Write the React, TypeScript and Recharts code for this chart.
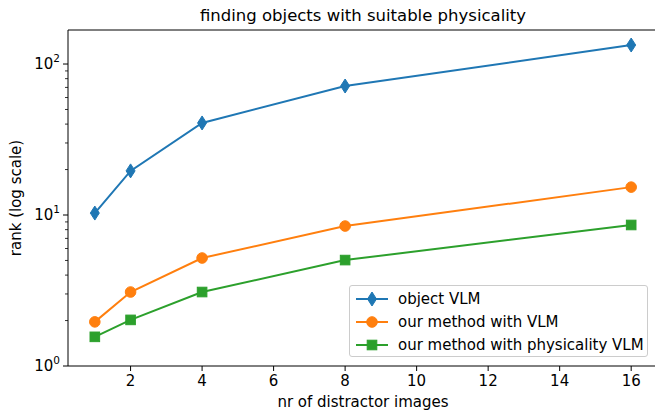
import React from 'react';
import { LineChart, Line, XAxis, YAxis, ReferenceLine } from 'recharts';

const distractors = [1, 2, 4, 8, 16];
const objectVlm = [10.3, 19.6, 40.7, 71.5, 133.6];
const ourVlm = [1.96, 3.09, 5.19, 8.45, 15.3];
const ourPhysVlm = [1.56, 2.02, 3.09, 5.03, 8.59];

const xTicks = [2, 4, 6, 8, 10, 12, 14, 16];
const yTicks = [1, 2, 3, 4, 5, 6, 7, 8, 9, 10, 20, 30, 40, 50, 60, 70, 80, 90, 100];
const yMajor: Record<number, string> = { 1: '0', 10: '1', 100: '2' };

const seriesNames = ['object VLM', 'our method with VLM', 'our method with physicality VLM'];
const colors = ['#1f77b4', '#ff7f0e', '#2ca02c'];

const data = distractors.map((n, i) => ({
  n,
  objectVlm: objectVlm[i],
  ourVlm: ourVlm[i],
  ourPhysVlm: ourPhysVlm[i],
}));

const FONT = '"DejaVu Sans", sans-serif';

function Marker({ kind, cx, cy, color }: { kind: number; cx: number; cy: number; color: string }) {
  if (kind === 0) {
    return (
      <polygon
        points={`${cx},${cy - 7} ${cx + 4.5},${cy} ${cx},${cy + 7} ${cx - 4.5},${cy}`}
        fill={color}
        stroke={color}
        strokeWidth={1}
      />
    );
  }
  if (kind === 1) {
    return <circle cx={cx} cy={cy} r={5.3} fill={color} stroke={color} strokeWidth={1} />;
  }
  return <rect x={cx - 4.8} y={cy - 4.8} width={9.6} height={9.6} fill={color} stroke={color} strokeWidth={1} />;
}

const makeDot = (kind: number) => (props: any) => {
  const { cx, cy, index } = props;
  if (cx == null || cy == null) return <g key={index} />;
  return <Marker key={index} kind={kind} cx={cx} cy={cy} color={colors[kind]} />;
};

const YTick = (props: any) => {
  const { x, y, payload } = props;
  const exp = yMajor[payload.value];
  if (exp === undefined) {
    return <line x1={x} x2={x - 3} y1={y} y2={y} stroke="#000" strokeWidth={0.8} />;
  }
  return (
    <g>
      <line x1={x} x2={x - 5} y1={y} y2={y} stroke="#000" strokeWidth={1} />
      <text x={x - 8} y={y} dy="0.36em" textAnchor="end" fill="#000" fontSize={15} fontFamily={FONT}>
        <tspan>10</tspan>
        <tspan dy={-7} fontSize={10.5}>{exp}</tspan>
      </text>
    </g>
  );
};

const LegendBox = () => (
  <div
    style={{
      position: 'absolute',
      left: 349,
      top: 285,
      border: '1px solid #cccccc',
      borderRadius: 3,
      background: 'rgba(255,255,255,0.8)',
      width: 299,
      height: 72,
      boxSizing: 'border-box',
      paddingTop: 1,
      fontFamily: FONT,
      fontSize: 15,
      lineHeight: '18px',
      color: '#000',
    }}
  >
    {seriesNames.map((name, i) => (
      <div key={name} style={{ display: 'flex', alignItems: 'center', height: 23 }}>
        <svg width={48} height={20} style={{ flex: 'none' }}>
          <line x1={6} x2={38} y1={10} y2={10} stroke={colors[i]} strokeWidth={2} />
          <Marker kind={i} cx={22} cy={10} color={colors[i]} />
        </svg>
        <span style={{ whiteSpace: 'nowrap' }}>{name}</span>
      </div>
    ))}
  </div>
);

export default function App() {
  return (
    <div style={{ position: 'absolute', left: 0, top: 0, width: 655, height: 412, overflow: 'hidden', background: '#fff' }}>
      <LineChart width={658} height={412} data={data} margin={{ top: 30, right: 0, bottom: 0, left: 0 }}>
        <text x={363} y={21} textAnchor="middle" fontSize={16.5} fontFamily={FONT} fill="#000">
          finding objects with suitable physicality
        </text>
        <text
          x={21}
          y={198}
          textAnchor="middle"
          fontSize={15}
          fontFamily={FONT}
          fill="#000"
          transform="rotate(-90 21 198)"
        >
          rank (log scale)
        </text>
        <text x={363} y={407} textAnchor="middle" fontSize={15} fontFamily={FONT} fill="#000">
          nr of distractor images
        </text>
        <XAxis
          dataKey="n"
          type="number"
          domain={[0.25, 16.75]}
          ticks={xTicks}
          interval={0}
          height={46}
          tickSize={5}
          tickMargin={4}
          axisLine={{ stroke: '#000', strokeWidth: 1 }}
          tickLine={{ stroke: '#000', strokeWidth: 1 }}
          tick={{ fill: '#000', fontSize: 15, fontFamily: FONT }}
        />
        <YAxis
          scale="log"
          type="number"
          domain={[1, 168]}
          allowDataOverflow
          ticks={yTicks}
          interval={0}
          width={68}
          tickSize={0}
          tickMargin={0}
          tickLine={false}
          axisLine={{ stroke: '#000', strokeWidth: 1 }}
          tick={<YTick />}
        />
        <ReferenceLine y={168} stroke="#000" strokeWidth={1} ifOverflow="extendDomain" />
        <Line dataKey="objectVlm" name={seriesNames[0]} stroke={colors[0]} strokeWidth={2} dot={makeDot(0)} isAnimationActive={false} />
        <Line dataKey="ourVlm" name={seriesNames[1]} stroke={colors[1]} strokeWidth={2} dot={makeDot(1)} isAnimationActive={false} />
        <Line dataKey="ourPhysVlm" name={seriesNames[2]} stroke={colors[2]} strokeWidth={2} dot={makeDot(2)} isAnimationActive={false} />
      </LineChart>
      <LegendBox />
    </div>
  );
}
